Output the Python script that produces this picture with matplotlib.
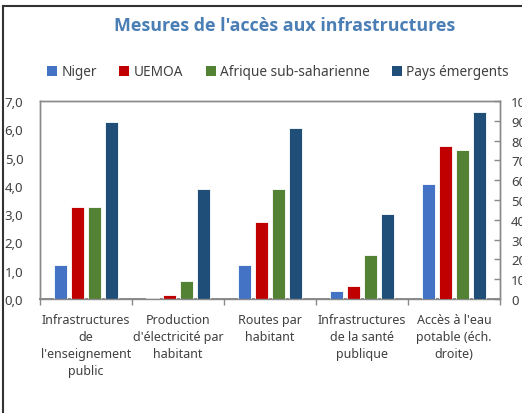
import numpy as np
import matplotlib.pyplot as plt
from matplotlib.lines import Line2D
from matplotlib.patches import Patch
from matplotlib.ticker import FixedLocator, FuncFormatter

plt.rcParams["font.family"] = ["Noto Sans", "DejaVu Sans"]

# Data
categories = [
    "Infrastructures\nde\nl'enseignement\npublic",
    "Production\nd'électricité par\nhabitant",
    "Routes par\nhabitant",
    "Infrastructures\nde la santé\npublique",
    "Accès à l'eau\npotable (éch.\ndroite)",
]
series = ["Niger", "UEMOA", "Afrique sub-saharienne", "Pays émergents"]
colors = ["#4472C4", "#C00000", "#548235", "#1F4E79"]

# first four categories on the left axis, last one on the right axis
niger = [1.2, 0.02, 1.2, 0.29, 58.0]
uemoa = [3.27, 0.15, 2.71, 0.47, 77.5]
ssa = [3.27, 0.65, 3.89, 1.55, 75.3]
emerging = [6.24, 3.9, 6.03, 3.0, 94.5]
values = [niger, uemoa, ssa, emerging]

fig = plt.figure(figsize=(5.22, 4.14), dpi=100)
ax = fig.add_axes([40 / 522, 1 - 300 / 414, 460 / 522, 198 / 414])
ax2 = ax.twinx()

x = np.arange(len(categories))
step = 0.185
width = 0.145
for i, (name, vals, col) in enumerate(zip(series, values, colors)):
    off = (i - 1.5) * step
    ax.bar(x[:4] + off, vals[:4], width, color=col, edgecolor="white",
           linewidth=0.6, zorder=3)
    ax2.bar(x[4:] + off, vals[4:], width, color=col, edgecolor="white",
            linewidth=0.6, zorder=3)

grey = "#898989"
text_col = "#404040"

ax.set_xlim(-0.5, 4.5)
ax.set_ylim(0, 7)
ax2.set_ylim(0, 100)
ax.set_yticks(np.arange(0, 8, 1))
ax.yaxis.set_major_formatter(FuncFormatter(lambda v, p: f"{v:.1f}".replace(".", ",")))
ax.tick_params(axis="y", length=0, pad=12, labelsize=9.5, labelcolor=text_col)

# right axis: labels run off the edge of the picture, as in the original
ax2.set_yticks(np.arange(0, 101, 10))
ax2.tick_params(axis="y", direction="in", length=4, width=1, color=grey,
                pad=8, labelsize=9.5, labelcolor=text_col)

ax.set_xticks(x)
ax.set_xticklabels(categories, fontsize=9, color=text_col, linespacing=1.42)
ax.xaxis.set_minor_locator(FixedLocator(np.arange(-0.5, 5, 1)))
ax.tick_params(axis="x", which="major", length=0, pad=10)
ax.tick_params(axis="x", which="minor", length=4, width=1, color=grey)

for a in (ax, ax2):
    for s in a.spines.values():
        s.set_color(grey)
        s.set_linewidth(1)
ax.spines["bottom"].set_linewidth(1.4)

# Title and legend
fig.text(285 / 522, 1 - 26 / 414, "Mesures de l'accès aux infrastructures",
         ha="center", va="center", fontsize=12.9, fontweight="bold",
         color="#4A7EB5", family=["Open Sans", "Liberation Sans", "DejaVu Sans"])

handles = [Patch(facecolor=c, edgecolor="none") for c in colors]
fig.legend(handles, series, loc="center", bbox_to_anchor=(278 / 522, 1 - 73 / 414),
           ncol=4, frameon=False, fontsize=9.8, handlelength=0.75, handleheight=0.75,
           handletextpad=0.3, columnspacing=1.65, labelcolor=text_col)

# Chart frame (only left and top edges visible in the crop)
fig.add_artist(Line2D([2.5 / 522, 2.5 / 522], [0, 1 - 6.5 / 414],
                      transform=fig.transFigure, color="#333333", lw=1.5))
fig.add_artist(Line2D([2.5 / 522, 1], [1 - 6.5 / 414, 1 - 6.5 / 414],
                      transform=fig.transFigure, color="#333333", lw=1.5))

fig.savefig("out.png", dpi=100)
